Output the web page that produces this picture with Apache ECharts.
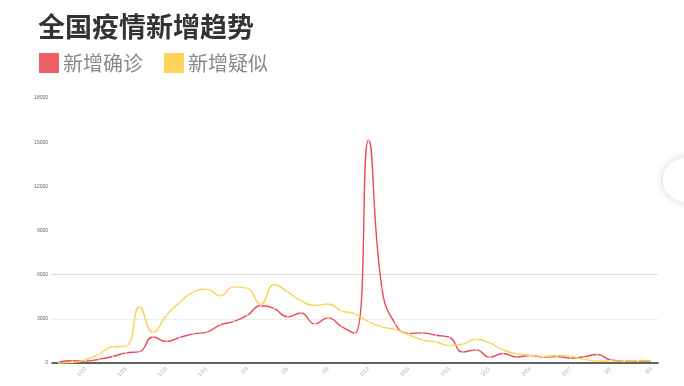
<!DOCTYPE html>
<html>
<head>
<meta charset="utf-8">
<script src="https://cdn.jsdelivr.net/npm/echarts@6/dist/echarts.min.js"></script>
<style>
html,body{margin:0;padding:0;background:#fff;}
#main{width:684px;height:386px;}
</style>
</head>
<body>
<div id="main"></div>
<script>
const categories = ['1/20','1/21','1/22','1/23','1/24','1/25','1/26','1/27','1/28','1/29','1/30','1/31',
  '2/1','2/2','2/3','2/4','2/5','2/6','2/7','2/8','2/9','2/10','2/11','2/12','2/13','2/14','2/15','2/16',
  '2/17','2/18','2/19','2/20','2/21','2/22','2/23','2/24','2/25','2/26','2/27','2/28','2/29',
  '3/1','3/2','3/3','3/4'];
const confirmedNew = [77,149,131,259,444,688,769,1771,1459,1737,1982,2102,2590,2829,3235,3887,3694,3143,3399,2656,3062,2478,2015,15152,5090,2641,2009,2048,1886,1749,750,889,397,648,409,508,406,433,327,427,573,202,125,119,139];
const suspectedNew = [0,30,220,620,1100,1150,3806,2077,3248,4148,4812,5019,4562,5173,5072,3971,5328,4833,4214,3916,4008,3536,3342,2807,2450,2277,1918,1563,1432,1185,1277,1614,1361,882,620,530,439,508,452,248,132,141,129,143,143];
const seriesNames = ['新增确诊','新增疑似'];
const seriesColors = ['#f06068','#ffd35a'];
const lineColors = ['#e8485a','#fdd04f'];
const titleText = '全国疫情新增趋势';

const chart = echarts.init(document.getElementById('main'), null, {renderer:'canvas'});
const labelEvery = (i) => i % 3 === 2;
chart.setOption({
  animation: false,
  title: {
    text: titleText,
    left: 33, top: 8,
    textStyle: {fontSize: 27, fontWeight: 'bold', color: '#333', fontFamily: 'Noto Sans CJK SC'}
  },
  legend: {
    left: 34, top: 48,
    icon: 'rect', itemWidth: 20, itemHeight: 20, itemGap: 21,
    textStyle: {fontSize: 20, color: '#888', fontFamily: 'Noto Sans CJK SC', padding: [0,0,0,-1]},
    data: [
      {name: seriesNames[0], itemStyle: {color: seriesColors[0], borderWidth: 0}},
      {name: seriesNames[1], itemStyle: {color: seriesColors[1], borderWidth: 0}}
    ]
  },
  grid: {left: 52, right: 26, top: 98, bottom: 23},
  xAxis: {
    type: 'category',
    data: categories,
    boundaryGap: true,
    axisLine: {lineStyle: {color: '#333', width: 1.5}},
    axisTick: {show: false},
    axisLabel: {interval: (i) => labelEvery(i), rotate: 45, fontSize: 5.5, color: '#aaa', margin: 5}
  },
  yAxis: {
    type: 'value',
    min: 0, max: 18000, interval: 3000,
    axisLine: {show: false},
    axisTick: {show: false},
    axisLabel: {fontSize: 5, color: '#666', margin: 4, formatter: (v) => String(v)},
    splitLine: {lineStyle: {color: ['#eee','#eee','#dcdcdc','rgba(0,0,0,0)','rgba(0,0,0,0)','rgba(0,0,0,0)','rgba(0,0,0,0)'], width: 1}}
  },
  graphic: [{
    type: 'circle', shape: {cx: 685, cy: 180, r: 22},
    style: {fill: '#fff', shadowBlur: 8, shadowColor: 'rgba(0,0,0,0.18)'}
  }],
  series: [{
    name: seriesNames[0], type: 'line', smooth: true,
    data: confirmedNew,
    symbol: 'circle', symbolSize: 1.6,
    itemStyle: {color: 'rgba(255,255,255,0.75)', borderWidth: 0},
    lineStyle: {color: lineColors[0], width: 1.4}
  }, {
    name: seriesNames[1], type: 'line', smooth: true,
    data: suspectedNew,
    symbol: 'circle', symbolSize: 1.6,
    itemStyle: {color: 'rgba(255,255,255,0.75)', borderWidth: 0},
    lineStyle: {color: lineColors[1], width: 1.4}
  }]
});
</script>
</body>
</html>
